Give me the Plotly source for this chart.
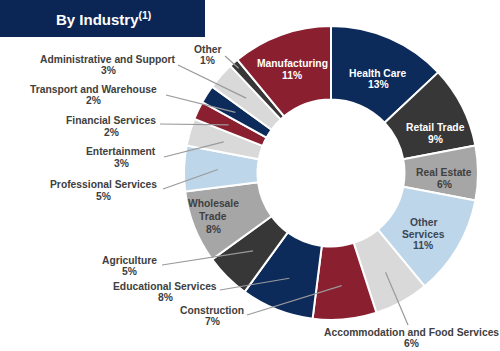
import math
import plotly.graph_objects as go

# ---------------- data ----------------
industries = ["Health Care", "Retail Trade", "Real Estate", "Other Services",
              "Accommodation and Food Services", "Construction", "Educational Services",
              "Agriculture", "Wholesale Trade", "Professional Services", "Entertainment",
              "Financial Services", "Transport and Warehouse", "Administrative and Support",
              "Other", "Manufacturing"]
shares = [13, 9, 6, 11, 6, 7, 8, 5, 8, 5, 3, 2, 2, 3, 1, 11]
display_names = ["Health Care", "Retail Trade", "Real Estate", "Other<br>Services",
                 "Accommodation and Food Services", "Construction", "Educational Services",
                 "Agriculture", "Wholesale<br>Trade", "Professional Services", "Entertainment",
                 "Financial Services", "Transport and Warehouse", "Administrative and Support",
                 "Other", "Manufacturing"]
title_text = "By Industry<sup>(1)</sup>"

# ---------------- style ----------------
NAVY = "#0c2a5a"
MAROON = "#8a1f30"
DARK = "#373737"
GRAY = "#a6a6a6"
LBLUE = "#bdd6ea"
LGRAY = "#d9d9d9"
colors = [NAVY, DARK, GRAY, LBLUE, LGRAY, MAROON, NAVY, DARK, GRAY, LBLUE,
          LGRAY, MAROON, NAVY, LGRAY, DARK, MAROON]

W, H = 500, 351
CX, CY, R = 331, 173, 147   # pie centre / radius in pixels
LABEL_FONT = "Liberation Sans, Arial"


def px(x):
    return x / W


def py(y):
    return 1 - y / H


WHITE = "#ffffff"
TXT = "#404040"
label_layout = {
    "Health Care": (378, 73, 11.5, WHITE, None, None),
    "Retail Trade": (435, 128, 11.5, WHITE, None, None),
    "Real Estate": (444, 173, 11.5, TXT, None, None),
    "Other Services": (423, 222, 12, "#3a4656", None, None),
    "Accommodation and Food Services": (411, 332, 11.5, TXT, (408, 325), 0.77),
    "Construction": (212, 310, 11.5, TXT, (247, 315), 0.77),
    "Educational Services": (165, 286, 11.5, TXT, (220, 290), 0.77),
    "Agriculture": (129, 260, 11.5, TXT, (162, 265), 0.75),
    "Wholesale Trade": (213, 203, 13, TXT, None, None),
    "Professional Services": (103, 184, 12, TXT, (163, 189), 0.77),
    "Entertainment": (121, 152, 11, TXT, (164, 157), 0.76),
    "Financial Services": (111, 120, 12, TXT, (160, 124), 0.77),
    "Transport and Warehouse": (93, 89, 11.5, TXT, (166, 95), 0.77),
    "Administrative and Support": (108, 59, 11.5, TXT, (178, 65), 0.77),
    "Other": (207, 49, 11.5, TXT, (225, 56), 0.95),
    "Manufacturing": (292, 64, 11.5, WHITE, None, None),
}

fig = go.Figure(go.Pie(
    labels=industries,
    values=shares,
    sort=False,
    direction="clockwise",
    rotation=0,
    hole=0.5,
    textinfo="none",
    hoverinfo="label+percent",
    marker=dict(colors=colors, line=dict(color="white", width=2)),
    domain=dict(x=[px(CX - R), px(CX + R)], y=[py(CY + R), py(CY - R)]),
    showlegend=False,
))

annotations = []
shapes = []

shapes.append(dict(type="rect", xref="paper", yref="paper", x0=0, x1=px(205),
                   y0=py(37), y1=1, fillcolor="#0b2654", line=dict(width=0), layer="below"))
annotations.append(dict(text=title_text, xref="paper", yref="paper", x=px(103), y=py(19),
                        showarrow=False, xanchor="center", yanchor="middle",
                        font=dict(family="Liberation Sans, Arial", size=15, color="white", weight="bold")))

total = sum(shares)
cum = 0
for name, disp, v in zip(industries, display_names, shares):
    start = cum
    cum += v
    mid = (start + v / 2) / total * 2 * math.pi
    lx, ly, gap, col, lstart, tipf = label_layout[name]
    lines = disp.split("<br>") + [f"{v}%"]
    for i, t in enumerate(lines):
        annotations.append(dict(text=t, xref="paper", yref="paper", x=px(lx), y=py(ly + i * gap),
                                showarrow=False, xanchor="center", yanchor="middle",
                                font=dict(family=LABEL_FONT, size=10.3, color=col, weight="bold")))
    if lstart is not None:
        tx = CX + tipf * R * math.sin(mid)
        ty = CY - tipf * R * math.cos(mid)
        shapes.append(dict(type="line", xref="paper", yref="paper",
                           x0=px(lstart[0]), y0=py(lstart[1]), x1=px(tx), y1=py(ty),
                           line=dict(color="#9a9a9a", width=1.2)))

fig.update_layout(
    width=W, height=H,
    margin=dict(l=0, r=0, t=0, b=0),
    paper_bgcolor="white", plot_bgcolor="white",
    annotations=annotations, shapes=shapes,
)

fig.write_html("out.html")
